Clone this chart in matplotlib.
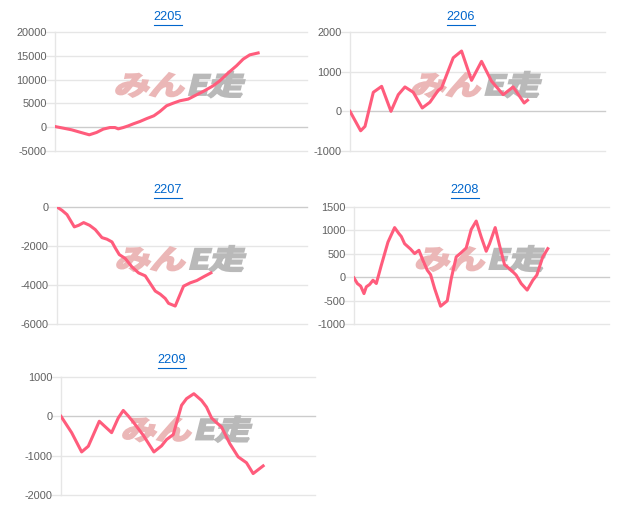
import matplotlib.pyplot as plt
from matplotlib.lines import Line2D
from matplotlib.textpath import TextPath
from matplotlib.patches import PathPatch
from matplotlib.font_manager import FontProperties
from matplotlib.transforms import Affine2D, IdentityTransform

plt.rcParams["font.family"] = ["Liberation Sans", "DejaVu Sans"]
plt.rcParams["axes.unicode_minus"] = False

# ==========================
# DATA (slot index, value)
# ==========================

x_2205 = [0, 2.5, 5, 7.5, 10.3, 12.5, 14.5, 16.5, 18, 19, 20.5, 22, 23.5, 25.5, 27.5,
          29.7, 31.5, 33.5, 35.5, 37.5, 40, 42.5, 45, 47.5, 49.5, 52, 54.5, 56.5, 58.5, 61]
y_2205 = [140, -200, -550, -1050, -1600, -1100, -400, -70, -70, -350, -70, 280, 700, 1200, 1800,
          2400, 3300, 4500, 5050, 5550, 5900, 6800, 7700, 8700, 9750, 11400, 12900, 14300, 15200, 15600]

x_2206 = [0, 3.2, 4.5, 7, 9.5, 12.3, 14.5, 16.5, 19, 21.7, 24, 26.5, 27.5, 31, 33.5,
          36.5, 39.5, 42.5, 46, 49, 52.3, 53.3]
y_2206 = [0, -490, -380, 480, 630, 0, 420, 615, 480, 85, 230, 530, 590, 1350, 1520,
          780, 1260, 760, 420, 615, 210, 280]

x_2207 = [0, 1.5, 3, 5.2, 6.5, 8, 9.8, 11.5, 13.5, 15, 16.5, 17.5, 18.7, 20.5, 22.5, 24.5,
          26.5, 28, 29.5, 31, 32.5, 33.5, 35.5, 38, 40, 42, 44, 46.2]
y_2207 = [0, -170, -390, -1020, -940, -800, -940, -1160, -1570, -1650, -1790, -2100, -2440,
          -2640, -3070, -3380, -3530, -3920, -4310, -4470, -4690, -4940, -5080, -4060, -3890,
          -3770, -3580, -3380]

x_2208 = [0, 1, 2, 3, 3.7, 4.7, 5.7, 6.7, 8.2, 10.2, 12.2, 13.5, 14.2, 15.2, 17, 18.2, 19.5,
          20.7, 22, 23, 24.2, 26, 28, 29.2, 30.7, 32.2, 33.7, 35.2, 36.7, 38.2, 39.7, 40.7,
          42.4, 43.7, 45.2, 47.2, 48.7, 50.2, 52, 53.7, 54.9, 56.7, 58.2]
y_2208 = [-15, -135, -190, -350, -205, -155, -65, -135, 255, 750, 1060, 930, 870, 715, 600,
          505, 575, 360, 150, 55, -240, -620, -505, -30, 435, 525, 625, 1020, 1200, 860, 555,
          715, 1060, 680, 270, 150, 45, -135, -275, -65, 45, 435, 610]

x_2209 = [0, 3.2, 6.2, 8.2, 11.5, 15.2, 17.2, 18.7, 20.2, 21.7, 24.7, 27.9, 30.2, 31.7, 33.7,
          36.2, 37.7, 39.9, 42.2, 43.7, 45.2, 46.7, 48.2, 50.7, 53.2, 55.7, 57.7, 60.7]
y_2209 = [0, -415, -905, -760, -125, -415, -40, 150, 10, -145, -480, -905, -750, -590, -465,
          280, 450, 575, 405, 235, -40, -160, -270, -695, -1030, -1180, -1455, -1260]

titles = ["2205", "2206", "2207", "2208", "2209"]
series = [(x_2205, y_2205), (x_2206, y_2206), (x_2207, y_2207), (x_2208, y_2208), (x_2209, y_2209)]
y_ticks = [
    [-5000, 0, 5000, 10000, 15000, 20000],
    [-1000, 0, 1000, 2000],
    [-6000, -4000, -2000, 0],
    [-1000, -500, 0, 500, 1000, 1500],
    [-2000, -1000, 0, 1000],
]

# ==========================
# LAYOUT (pixels)
# ==========================

W, H = 617, 523
# left, right, top, bottom of each plot area
boxes = [
    (55, 307, 32, 151),
    (350, 605, 32, 151),
    (57, 307, 207, 324),
    (354, 609, 207, 324),
    (61, 315, 377, 495),
]
title_pos = [(168, 17), (461, 17), (168, 190), (465, 190), (172, 360)]

SLOT_PX = 3.33
LINE_COLOR = "#ff5c7c"
GRID_COLOR = "#e6e6e6"

fig = plt.figure(figsize=(W / 100, H / 100), dpi=100)

# watermark glyph outlines
wm_font = FontProperties(family="Noto Sans CJK JP", weight="bold")
wm_pink = TextPath((0, 0), "みん", size=27, prop=wm_font)
wm_gray = TextPath((0, 0), "E走", size=27, prop=wm_font)
pink_ext = wm_pink.get_extents()
gray_ext = wm_gray.get_extents()
WM_SX = 1.3
WM_GAP = 7
wm_width = (pink_ext.width + gray_ext.width) * WM_SX + WM_GAP

title_texts = []
for i in range(5):
    l, r, t, b = boxes[i]
    ax = fig.add_axes([l / W, 1 - b / H, (r - l) / W, (b - t) / H])
    xs, ys = series[i]
    ticks = y_ticks[i]

    ax.set_xlim(0, (r - l) / SLOT_PX)
    ax.set_ylim(ticks[0], ticks[-1])
    ax.set_yticks(ticks)
    ax.set_xticks([])

    for tk in ticks:
        c = "#cccccc" if tk == 0 else GRID_COLOR
        ax.axhline(tk, color=c, lw=1, zorder=1, clip_on=False)

    for side in ["top", "right", "bottom"]:
        ax.spines[side].set_visible(False)
    ax.spines["left"].set_color(GRID_COLOR)
    ax.spines["left"].set_linewidth(1)

    ax.tick_params(axis="y", length=7, width=1, color=GRID_COLOR,
                   labelsize=7.9, labelcolor="#606060", pad=-1)

    # watermark, skewed like the logo
    cx = l + 0.49 * (r - l)
    cy = H - (b - 0.555 * (b - t))
    x0 = cx - wm_width / 2
    y0 = cy - pink_ext.height / 2 - pink_ext.y0
    tr1 = Affine2D().translate(-pink_ext.x0, 0).scale(WM_SX, 1).skew_deg(14, 0).translate(x0, y0)
    ax.add_patch(PathPatch(wm_pink, transform=tr1 + IdentityTransform(), facecolor="#ebb7b7",
                           edgecolor="#ebb7b7", lw=1.6, clip_on=False, zorder=2))
    x1 = x0 + pink_ext.width * WM_SX + WM_GAP
    tr2 = Affine2D().translate(-gray_ext.x0, 0).scale(WM_SX, 1).skew_deg(14, 0).translate(x1, y0)
    ax.add_patch(PathPatch(wm_gray, transform=tr2 + IdentityTransform(), facecolor="#b9b9b9",
                           edgecolor="#b9b9b9", lw=1.6, clip_on=False, zorder=2))

    ax.plot(xs, ys, color=LINE_COLOR, lw=2.2, solid_joinstyle="round", zorder=3)

    tx, ty = title_pos[i]
    txt = fig.text(tx / W, 1 - ty / H, titles[i], ha="center", va="center",
                   fontsize=9.2, color="#0066cc")
    title_texts.append(txt)

# underline the titles
renderer = fig.canvas.get_renderer()
for txt in title_texts:
    bb = txt.get_window_extent(renderer=renderer)
    x0, x1 = bb.x0 / W, bb.x1 / W
    yline = (bb.y0 - 1.5) / H
    fig.add_artist(Line2D([x0, x1], [yline, yline], color="#0066cc", lw=0.8,
                          transform=fig.transFigure))

plt.savefig("out.png", dpi=100)
